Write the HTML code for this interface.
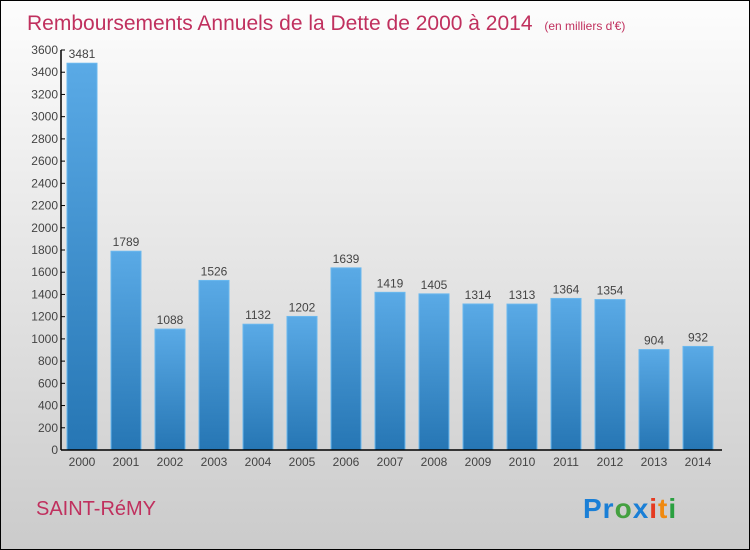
<!DOCTYPE html>
<html><head><meta charset="utf-8"><style>
body{margin:0;width:750px;height:550px;overflow:hidden}
svg{display:block;font-family:"Liberation Sans",sans-serif}
</style></head><body>
<svg id="c" width="750" height="550">
<defs>
<linearGradient id="bg" x1="0" y1="0" x2="0" y2="1"><stop offset="0" stop-color="#fdfdfd"/><stop offset="1" stop-color="#cbcbcb"/></linearGradient>
<linearGradient id="bar" x1="0" y1="0" x2="0" y2="1"><stop offset="0" stop-color="#5aaae6"/><stop offset="1" stop-color="#2676b4"/></linearGradient>
</defs>
<rect x="0.5" y="0.5" width="749" height="549" fill="url(#bg)" stroke="#000"/>
<text x="27" y="30" font-size="21" fill="#c0305e">Remboursements Annuels de la Dette de 2000 à 2014 <tspan font-size="12" dx="6">(en milliers d'€)</tspan></text>
<text x="36" y="515" font-size="20" fill="#c0305e">SAINT-RéMY</text>
<g font-size="28" font-weight="bold">
<text x="583" y="518" letter-spacing="1"><tspan fill="#1a7fd6">Pr</tspan><tspan fill="#44a040">o</tspan><tspan fill="#1a7fd6">x</tspan><tspan fill="#e53a20">i</tspan><tspan fill="#f08a10">t</tspan><tspan fill="#2aa040">i</tspan></text>
</g>
<g id="plot"></g>
</svg>
<script>
const categories=["2000","2001","2002","2003","2004","2005","2006","2007","2008","2009","2010","2011","2012","2013","2014"];
const values=[3481,1789,1088,1526,1132,1202,1639,1419,1405,1314,1313,1364,1354,904,932];
const yTicks=[0,200,400,600,800,1000,1200,1400,1600,1800,2000,2200,2400,2600,2800,3000,3200,3400,3600];
const NS="http://www.w3.org/2000/svg";
const g=document.getElementById('plot');
const x0=61,y0=450,yTop=50,yMax=3600,step=44,bw=30;
const y=v=>y0-(v/yMax)*(y0-yTop);
const xc=i=>x0+21+i*step;
function mk(t,a){const e=document.createElementNS(NS,t);for(const k in a)e.setAttribute(k,a[k]);g.appendChild(e);return e;}
yTicks.forEach(t=>{
  const l=mk('line',{x1:x0,x2:x0+4,y1:y(t),y2:y(t),stroke:'#000'});
  
  
  const tx=mk('text',{x:x0-3,y:y(t)+4,'text-anchor':'end','font-size':12,fill:'#444'});
  tx.textContent=t;
  
  
});
values.forEach((v,i)=>{
  const r=mk('rect',{x:xc(i)-bw/2,y:y(v),width:bw,height:y0-y(v),fill:'url(#bar)',stroke:'#6ab8ee','stroke-width':1});
  
  
  const lb=mk('text',{x:xc(i),y:y(v)-5,'text-anchor':'middle','font-size':12,fill:'#444'});
  lb.textContent=v;
  
  
  const cl=mk('text',{x:xc(i),y:y0+16,'text-anchor':'middle','font-size':12,fill:'#444'});
  cl.textContent=categories[i];
  
  
});
const ya=mk('line',{x1:x0,x2:x0,y1:yTop,y2:y0,stroke:'#000','stroke-width':1.5});


const xa=mk('line',{x1:x0,x2:722,y1:y0,y2:y0,stroke:'#000','stroke-width':1.5});


</script>
</body></html>
